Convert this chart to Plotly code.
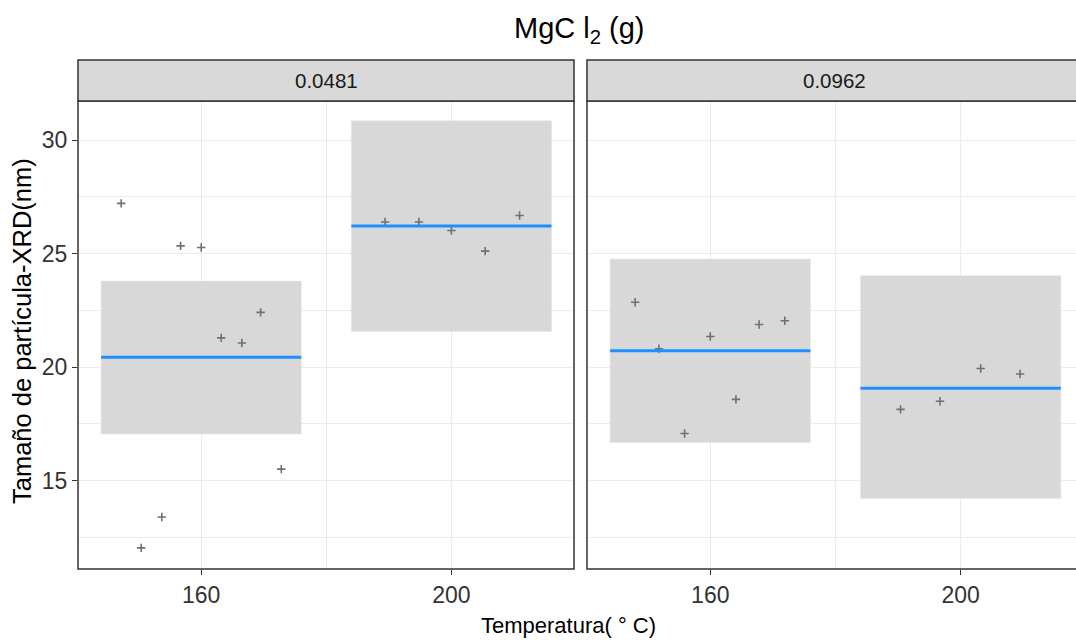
import plotly.graph_objects as go

# ---- data ----
panels = ["0.0481", "0.0962"]
temps = [160, 200]

# jittered points per panel / temperature group
pts_x_0481_160 = [147.2, 150.4, 153.7, 156.7, 160.0, 163.2, 166.5, 169.5, 172.8]
pts_y_0481_160 = [27.21, 12.04, 13.40, 25.34, 25.27, 21.29, 21.06, 22.41, 15.51]
pts_x_0481_200 = [189.4, 194.8, 200.0, 205.4, 210.9]
pts_y_0481_200 = [26.39, 26.39, 26.02, 25.11, 26.68]
pts_x_0962_160 = [148.0, 151.8, 155.9, 160.0, 164.1, 167.8, 171.9]
pts_y_0962_160 = [22.86, 20.81, 17.08, 21.35, 18.58, 21.88, 22.04]
pts_x_0962_200 = [190.4, 196.7, 203.2, 209.5]
pts_y_0962_200 = [18.14, 18.50, 19.94, 19.70]

# summaries: mean and confidence interval per panel (order: 160, 200)
mean_0481 = [20.43, 26.21]
low_0481 = [17.05, 21.57]
high_0481 = [23.79, 30.85]
mean_0962 = [20.72, 19.07]
low_0962 = [16.68, 14.22]
high_0962 = [24.76, 24.02]

x_ticks = [160, 200]
x_minor = [180]
y_ticks = [15, 20, 25, 30]
y_minor = [12.5, 17.5, 22.5, 27.5]

title_text = "MgC l<sub>2</sub> (g)"
x_title = "Temperatura( ° C)"
y_title = "Tamaño de partícula-XRD(nm)"

# ---- styling ----
FONT = "Liberation Sans, Arial, sans-serif"
HALF_W = 16.0  # crossbar half width (0.8 * 40 / 2)
BOX_FILL = "#d8d8d8"
LINE_BLUE = "#1e8fff"
PT_COLOR = "#707070"
GRID = "#ebebeb"
BORDER = "#333333"

fig = go.Figure()

groups = [
    ("x", "y", pts_x_0481_160, pts_y_0481_160, pts_x_0481_200, pts_y_0481_200, mean_0481, low_0481, high_0481),
    ("x2", "y2", pts_x_0962_160, pts_y_0962_160, pts_x_0962_200, pts_y_0962_200, mean_0962, low_0962, high_0962),
]

for xa, ya, xa1, ya1, xb1, yb1, means, lows, highs in groups:
    # CI boxes
    for t, lo, hi in zip(temps, lows, highs):
        fig.add_trace(go.Scatter(
            x=[t - HALF_W, t + HALF_W, t + HALF_W, t - HALF_W, t - HALF_W],
            y=[lo, lo, hi, hi, lo],
            mode="lines", fill="toself", fillcolor=BOX_FILL,
            line=dict(width=0.5, color="#e4e4e4"),
            xaxis=xa, yaxis=ya, showlegend=False, hoverinfo="skip"))
    # points
    for px, py in [(xa1, ya1), (xb1, yb1)]:
        fig.add_trace(go.Scatter(
            x=px, y=py, mode="markers",
            marker=dict(symbol="cross-thin", size=6, color=PT_COLOR,
                        line=dict(width=1.6, color=PT_COLOR)),
            xaxis=xa, yaxis=ya, showlegend=False))
    # mean lines
    for t, m in zip(temps, means):
        fig.add_trace(go.Scatter(
            x=[t - HALF_W, t + HALF_W], y=[m, m], mode="lines",
            line=dict(color=LINE_BLUE, width=3),
            xaxis=xa, yaxis=ya, showlegend=False))

axis_common = dict(
    showgrid=True, gridcolor=GRID, gridwidth=1.1, zeroline=False, showline=False,
    ticks="outside", ticklen=5, tickwidth=1.1, tickcolor=BORDER,
    tickfont=dict(family=FONT, size=23, color="#333333"),
)

fig.update_layout(
    width=1076, height=640,
    margin=dict(l=78, r=0, t=101, b=71),
    plot_bgcolor="white", paper_bgcolor="white",
    font=dict(family=FONT),
    xaxis=dict(domain=[0, 0.497], range=[140.3, 219.6], tickvals=x_ticks, anchor="y",
               minor=dict(tickvals=x_minor, showgrid=True, gridcolor=GRID, gridwidth=0.8),
               **axis_common),
    xaxis2=dict(domain=[0.510, 1.0], range=[140.3, 218.43], tickvals=x_ticks, anchor="y2",
                minor=dict(tickvals=x_minor, showgrid=True, gridcolor=GRID, gridwidth=0.8),
                **axis_common),
    yaxis=dict(domain=[0, 1], range=[11.11, 31.72], tickvals=y_ticks, anchor="x",
               minor=dict(tickvals=y_minor, showgrid=True, gridcolor=GRID, gridwidth=0.8),
               **axis_common),
    yaxis2=dict(domain=[0, 1], range=[11.11, 31.72], tickvals=y_ticks, anchor="x2",
                minor=dict(tickvals=y_minor, showgrid=True, gridcolor=GRID, gridwidth=0.8),
                showgrid=True, gridcolor=GRID, gridwidth=1.1, zeroline=False, showline=False,
                showticklabels=False, ticks=""),
)

STRIP_TOP = 1 + 41 / 468
shapes = []
annotations = []
for xd, x1, label, cx in [("x domain", 1.0, panels[0], 0.5), ("x2 domain", 1.014, panels[1], 0.507)]:
    yd = "y domain" if xd == "x domain" else "y2 domain"
    shapes.append(dict(type="rect", xref=xd, yref=yd, x0=0, x1=x1, y0=0, y1=1,
                       line=dict(color=BORDER, width=1.5), fillcolor="rgba(0,0,0,0)", layer="above"))
    shapes.append(dict(type="rect", xref=xd, yref=yd, x0=0, x1=x1, y0=1, y1=STRIP_TOP,
                       line=dict(color=BORDER, width=1.5), fillcolor="#d9d9d9", layer="above"))
    annotations.append(dict(text=label, xref=xd, yref=yd, x=cx, y=(1 + STRIP_TOP) / 2,
                            showarrow=False, xanchor="center", yanchor="middle",
                            font=dict(family=FONT, size=20.5, color="#1a1a1a")))

annotations.append(dict(text=title_text, xref="paper", yref="paper", x=0.5025, y=1 + 71 / 468,
                        showarrow=False, xanchor="center", yanchor="middle",
                        font=dict(family=FONT, size=29, color="#000000")))
annotations.append(dict(text=x_title, xref="paper", yref="paper", x=0.491, y=-56 / 468,
                        showarrow=False, xanchor="center", yanchor="middle",
                        font=dict(family=FONT, size=22, color="#000000")))
annotations.append(dict(text=y_title, xref="paper", yref="paper", x=-56 / 998, y=0.5085,
                        showarrow=False, xanchor="center", yanchor="middle", textangle=-90,
                        font=dict(family=FONT, size=25.5, color="#000000")))

fig.update_layout(shapes=shapes, annotations=annotations)

fig.write_html("out.html")
